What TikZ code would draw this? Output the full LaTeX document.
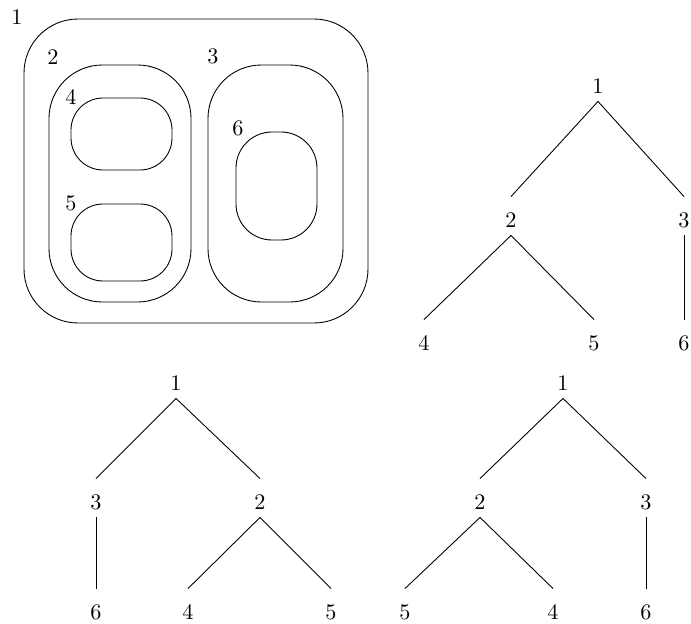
\documentclass[tikz,border=0pt]{standalone}
\usetikzlibrary{positioning}
\begin{document}
\begin{tikzpicture}[x=0.45pt,y=-0.45pt,
  lab/.style={inner sep=0pt,anchor=base,text height=13.5pt,text depth=3.6pt},
  tag/.style={inner sep=0pt}]
  \useasboundingbox (0,0) rectangle (691,624);
  \clip (0,0) rectangle (691,624);
  % nested regions
  \draw[rounded corners=24.3pt] (24,19) rectangle (368,323);
  \draw[rounded corners=24pt] (49,65) rectangle (191,302);
  \draw[rounded corners=24pt] (208,65) rectangle (343,302);
  \draw[rounded corners=14.4pt] (71,98) rectangle (172,170);
  \draw[rounded corners=14.4pt] (71,204) rectangle (172,281);
  \draw[rounded corners=16.2pt] (236,132) rectangle (317,240);
  \node[tag] (r1) at (17,17) {1};
  \node[tag] (r2) at (53,57) {2};
  \node[tag] (r3) at (213,56) {3};
  \node[tag] (r4) at (71,97) {4};
  \node[tag] (r5) at (71,203) {5};
  \node[tag] (r6) at (238,128) {6};
  % tree, top right
  \node[lab] (a1) at (598,93) {1};
  \node[lab] (a2) at (511,227) {2};
  \node[lab] (a3) at (684,227) {3};
  \node[lab] (a4) at (424,350) {4};
  \node[lab] (a5) at (594,350) {5};
  \node[lab] (a6) at (684,350) {6};
  % tree, bottom left
  \node[lab] (b1) at (176,390) {1};
  \node[lab] (b3) at (96,509) {3};
  \node[lab] (b2) at (260,509) {2};
  \node[lab] (b6) at (96,619) {6};
  \node[lab] (b4) at (188,619) {4};
  \node[lab] (b5) at (331,619) {5};
  % tree, bottom right
  \node[lab] (c1) at (563,390) {1};
  \node[lab] (c2) at (480,509) {2};
  \node[lab] (c3) at (646,509) {3};
  \node[lab] (c5) at (405,619) {5};
  \node[lab] (c4) at (553,619) {4};
  \node[lab] (c6) at (646,619) {6};
  \foreach \p/\c in {a1/a2,a1/a3,a2/a4,a2/a5,a3/a6,
                     b1/b3,b1/b2,b3/b6,b2/b4,b2/b5,
                     c1/c2,c1/c3,c2/c5,c2/c4,c3/c6}
    \draw (\p.south) -- (\c.north);
\end{tikzpicture}
\end{document}
